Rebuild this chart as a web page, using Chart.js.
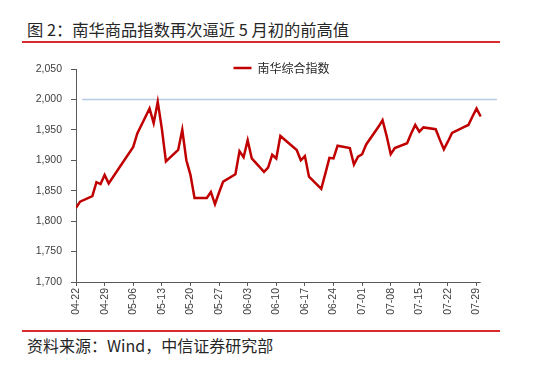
<!DOCTYPE html>
<html>
<head>
<meta charset="utf-8">
<script src="https://cdn.jsdelivr.net/npm/chart.js@4.4.1/dist/chart.umd.min.js"></script>
<style>
  body { margin: 0; width: 550px; height: 375px; background: #fff; position: relative; overflow: hidden; }
  .title { position: absolute; left: 27px; top: 19px; font: 16.3px/20px "Noto Sans CJK SC", sans-serif; color: #262626; white-space: nowrap; }
  .rule { position: absolute; left: 22px; width: 478px; height: 2px; background: #d92b2b; }
  .source { position: absolute; left: 27px; top: 335px; font: 16px/20px "Noto Sans CJK SC", sans-serif; color: #262626; white-space: nowrap; }
  #wrap { position: absolute; left: 0; top: 50px; width: 550px; height: 280px; }
</style>
</head>
<body>
<div class="title">图 2：南华商品指数再次逼近 5 月初的前高值</div>
<div class="rule" style="top:41px"></div>
<div id="wrap"><canvas id="chart" width="550" height="280"></canvas></div>
<div class="rule" style="top:330px"></div>
<div class="source">资料来源：Wind，中信证券研究部</div>

<script>
// trading days, 2021
const dates = [
    '2021-04-22', '2021-04-23', '2021-04-26', '2021-04-27', '2021-04-28', '2021-04-29', '2021-04-30',
    '2021-05-06', '2021-05-07', '2021-05-10', '2021-05-11', '2021-05-12', '2021-05-13', '2021-05-14',
    '2021-05-17', '2021-05-18', '2021-05-19', '2021-05-20', '2021-05-21', '2021-05-24', '2021-05-25',
    '2021-05-26', '2021-05-27', '2021-05-28', '2021-05-31',
    '2021-06-01', '2021-06-02', '2021-06-03', '2021-06-04', '2021-06-07', '2021-06-08', '2021-06-09',
    '2021-06-10', '2021-06-11', '2021-06-15', '2021-06-16', '2021-06-17', '2021-06-18', '2021-06-21',
    '2021-06-22', '2021-06-23', '2021-06-24', '2021-06-25', '2021-06-28', '2021-06-29', '2021-06-30',
    '2021-07-01', '2021-07-02', '2021-07-05', '2021-07-06', '2021-07-07', '2021-07-08', '2021-07-09',
    '2021-07-12', '2021-07-13', '2021-07-14', '2021-07-15', '2021-07-16', '2021-07-19', '2021-07-20',
    '2021-07-21', '2021-07-22', '2021-07-23', '2021-07-26', '2021-07-27', '2021-07-28', '2021-07-29',
    '2021-07-30'
];

const nanhua = [
    1822, 1832, 1841, 1864, 1861, 1876, 1862,
    1922, 1944, 1985, 1961, 1996, 1952, 1898,
    1917, 1950, 1900, 1876, 1838, 1838, 1848,
    1828, 1847, 1865, 1877,
    1915, 1905, 1933, 1903, 1881, 1888, 1909,
    1903, 1940, 1917, 1900, 1907, 1873, 1853,
    1878, 1904, 1903, 1924, 1920, 1893, 1906,
    1910, 1926, 1955, 1966, 1940, 1910, 1920,
    1928, 1944, 1958, 1947, 1954, 1951, 1934,
    1918, 1931, 1945, 1955, 1958, 1972, 1985,
    1972
];

const xTickLabels = ['04-22', '04-29', '05-06', '05-13', '05-20', '05-27', '06-03', '06-10',
                     '06-17', '06-24', '07-01', '07-08', '07-15', '07-22', '07-29'];

const refLevel = 2000;   // 5月初前高

const AXIS_COLOR = '#595959';
const TEXT_COLOR = '#404040';
const X_MAX = 103;        // axis runs a little past the last day

/**
 * Days since the first date.
 */
function dayOffset(d)
{
    const p = d.split('-').map(Number);
    const q = dates[0].split('-').map(Number);
    return (Date.UTC(p[0], p[1] - 1, p[2]) - Date.UTC(q[0], q[1] - 1, q[2])) / 86400000;
}

const lastDay = dayOffset(dates[dates.length - 1]);

// x axis line stops at the last data day, like the original
const axisLine = {
    id: 'axisLine',
    beforeDatasetsDraw(chart) {
        const {ctx, scales: {x}} = chart;
        const y = Math.round(x.top) + 0.5;
        ctx.save();
        ctx.strokeStyle = AXIS_COLOR;
        ctx.lineWidth = 1;
        ctx.beginPath();
        ctx.moveTo(x.left, y);
        ctx.lineTo(x.getPixelForValue(lastDay), y);
        ctx.stroke();
        ctx.restore();
    }
};

// legend sits inside the plot, it takes no room of its own
const overlayLegend = {
    id: 'overlayLegend',
    beforeInit(chart) {
        const legend = chart.legend;
        const fit = legend.fit;
        legend.fit = function () {
            fit.call(this);
            this.height = 0;
        };
    },
    afterLayout(chart) {
        const legend = chart.legend;
        legend.top = chart.chartArea.top - 17;
        legend.height = 34;
        legend.bottom = legend.top + legend.height;
        legend.left -= 5;
        legend.right -= 5;
    }
};

Chart.defaults.font.family = '"Liberation Sans", Arial, sans-serif';
Chart.defaults.color = TEXT_COLOR;

new Chart(document.getElementById('chart'), {
    type: 'line',
    data: {
        datasets: [{
            label: '南华综合指数',
            data: dates.map((d, i) => ({x: dayOffset(d), y: nanhua[i]})),
            borderColor: '#c00000',
            backgroundColor: '#c00000',
            borderWidth: 2.5,
            pointRadius: 0,
            tension: 0
        }, {
            label: 'ref',
            data: [{x: 1.5, y: refLevel}, {x: X_MAX, y: refLevel}],
            borderColor: '#b7cbe4',
            borderWidth: 1.5,
            pointRadius: 0
        }]
    },
    options: {
        responsive: false,
        animation: false,
        layout: {padding: {top: 19, right: 53, bottom: 8, left: 0}},
        plugins: {
            legend: {
                position: 'top',
                fullSize: false,
                labels: {
                    filter: (item) => item.datasetIndex === 0,
                    usePointStyle: true,
                    pointStyle: 'line',
                    pointStyleWidth: 18,
                    padding: 10,
                    color: '#262626',
                    font: {family: '"Noto Sans CJK SC", sans-serif', size: 12}
                }
            },
            tooltip: {enabled: false}
        },
        scales: {
            x: {
                type: 'linear',
                min: 0,
                max: X_MAX,
                afterFit: (scale) => { scale.height = 40; },
                afterBuildTicks: (scale) => {
                    scale.ticks = scale.ticks.filter(t => t.value % 7 === 0 && t.value <= lastDay);
                },
                border: {display: false},
                grid: {drawOnChartArea: false, tickLength: 4, color: AXIS_COLOR},
                ticks: {
                    stepSize: 7,
                    includeBounds: false,
                    autoSkip: false,
                    minRotation: 90,
                    maxRotation: 90,
                    padding: 2,
                    font: {size: 10.5},
                    callback: (v) => xTickLabels[v / 7]
                }
            },
            y: {
                min: 1700,
                max: 2050,
                afterFit: (scale) => { scale.width = 76; },
                border: {display: true, color: AXIS_COLOR},
                grid: {drawOnChartArea: false, tickLength: 5, color: AXIS_COLOR},
                ticks: {
                    stepSize: 50,
                    padding: 9,
                    font: {size: 10.5},
                    callback: (v) => v.toLocaleString('en-US')
                }
            }
        }
    },
    plugins: [axisLine, overlayLegend]
});
</script>
</body>
</html>
